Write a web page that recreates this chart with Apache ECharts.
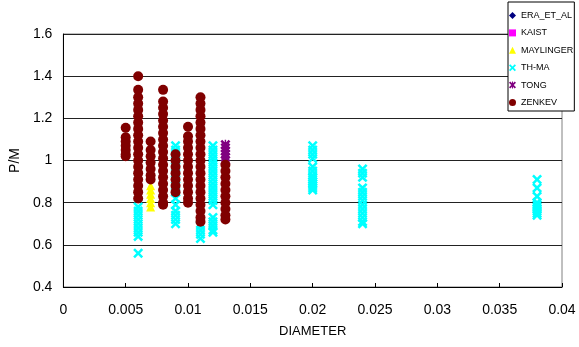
<!DOCTYPE html>
<html>
<head>
<meta charset="utf-8">
<script src="https://cdn.jsdelivr.net/npm/echarts@6/dist/echarts.min.js"></script>
<style>
  html, body { margin: 0; padding: 0; background: #fff; }
  #chart { width: 579px; height: 347px; }
</style>
</head>
<body>
<div id="chart"></div>
<script>
// values, one column of points per diameter
const seriesNames = ['ERA_ET_AL', 'KAIST', 'MAYLINGER', 'TH-MA', 'TONG', 'ZENKEV']

const eraX = [0.008, 0.011]
const eraY = [[1.0], [1.1]]

const kaistX = [0.006, 0.011]
const kaistY = [[1.08, 0.98], [0.95]]

const maylingerX = [0.007]
const maylingerY = [[0.78, 0.8, 0.82, 0.84, 0.86, 0.88]]

const thmaX = [0.006, 0.009, 0.011, 0.012, 0.02, 0.024, 0.038]
const thmaY = [
  [0.56, 0.64, 0.66, 0.68, 0.7, 0.72, 0.74, 0.76, 0.78],
  [1.07, 1.05, 1.03, 1.0, 0.97, 0.94, 0.91, 0.88, 0.85, 0.82, 0.79, 0.76, 0.74, 0.72, 0.7],
  [0.63, 0.65, 0.67, 0.69],
  [1.07, 1.05, 1.03, 1.01, 0.99, 0.97, 0.95, 0.93, 0.91, 0.89, 0.87, 0.85, 0.83, 0.81, 0.79, 0.73, 0.71, 0.69, 0.67, 0.66],
  [1.07, 1.05, 1.03, 1.01, 0.97, 0.95, 0.93, 0.92, 0.91, 0.9, 0.89, 0.88, 0.87, 0.86],
  [0.96, 0.94, 0.92, 0.87, 0.85, 0.83, 0.81, 0.79, 0.77, 0.75, 0.73, 0.71, 0.7],
  [0.91, 0.87, 0.83, 0.8, 0.79, 0.78, 0.77, 0.76, 0.75, 0.74]
]

const tongX = [0.013]
const tongY = [[1.075, 1.06, 1.045, 1.03, 1.015, 1.0]]

const zenkevX = [0.005, 0.006, 0.007, 0.008, 0.009, 0.01, 0.011, 0.013]
const zenkevY = [
  [1.155, 1.11, 1.09, 1.07, 1.05, 1.03, 1.02],
  [1.4, 1.335, 1.3, 1.27, 1.24, 1.21, 1.18, 1.15, 1.12, 1.09, 1.06, 1.03, 1.0, 0.97, 0.94, 0.91, 0.88, 0.85, 0.82],
  [1.09, 1.05, 1.02, 0.99, 0.96, 0.93, 0.91],
  [1.335, 1.28, 1.25, 1.22, 1.19, 1.16, 1.13, 1.1, 1.07, 1.04, 1.01, 0.98, 0.95, 0.92, 0.89, 0.86, 0.83, 0.8, 0.79],
  [1.03, 1.0, 0.97, 0.94, 0.91, 0.88, 0.85],
  [1.16, 1.115, 1.09, 1.06, 1.03, 1.0, 0.97, 0.94, 0.91, 0.88, 0.85, 0.82, 0.8],
  [1.3, 1.27, 1.24, 1.21, 1.18, 1.15, 1.12, 1.09, 1.06, 1.03, 1.0, 0.97, 0.94, 0.91, 0.88, 0.85, 0.82, 0.79, 0.76, 0.73, 0.71],
  [0.98, 0.95, 0.92, 0.89, 0.86, 0.83, 0.8, 0.77, 0.74, 0.72]
]

const FONT = 'Liberation Sans, Arial, sans-serif'
const X_PATH = 'M0,1.8L1.8,0L5,3.2L8.2,0L10,1.8L6.8,5L10,8.2L8.2,10L5,6.8L1.8,10L0,8.2L3.2,5Z'
const CROSS = 'path://' + X_PATH
const STAR = 'path://' + X_PATH + 'M4.3,0L5.7,0L5.7,10L4.3,10Z'

function pairs(xs, ys) {
  const out = []
  xs.forEach((x, i) => ys[i].forEach(y => out.push([x, y])))
  return out
}

function scatter(name, xs, ys, symbol, size, color) {
  return {
    name,
    type: 'scatter',
    data: pairs(xs, ys),
    symbol,
    symbolSize: size,
    itemStyle: { color, opacity: 1 },
    emphasis: { disabled: true },
    silent: true,
  }
}

const chart = echarts.init(document.getElementById('chart'))
chart.setOption({
  backgroundColor: '#fff',
  animation: false,
  grid: {
    left: 62, right: 17, top: 34, bottom: 60,
    show: true, borderColor: '#808080', borderWidth: 1, backgroundColor: '#fff',
  },
  legend: {
    orient: 'vertical',
    left: 508, top: 2,
    padding: [8, 1, 3, 1],
    itemWidth: 7, itemHeight: 7, itemGap: 6.4,
    backgroundColor: '#fff',
    borderColor: '#000', borderWidth: 1,
    textStyle: { fontFamily: FONT, fontSize: 9, lineHeight: 11, color: '#000' },
    data: seriesNames,
    z: 10,
  },
  xAxis: {
    type: 'value',
    min: 0, max: 0.04, interval: 0.005,
    name: 'DIAMETER',
    nameLocation: 'middle',
    nameGap: 38,
    nameTextStyle: { fontFamily: FONT, fontSize: 13, color: '#000' },
    axisLine: { lineStyle: { color: '#000', width: 1 } },
    axisTick: { show: true, inside: true, length: 4, lineStyle: { color: '#000' } },
    axisLabel: { fontFamily: FONT, fontSize: 14, color: '#000', margin: 16 },
    splitLine: { show: false },
  },
  yAxis: {
    type: 'value',
    min: 0.4, max: 1.6, interval: 0.2,
    name: 'P/M',
    nameLocation: 'middle',
    nameGap: 37,
    nameTextStyle: { fontFamily: FONT, fontSize: 14, color: '#000' },
    axisLine: { show: true, lineStyle: { color: '#000', width: 1 } },
    axisTick: { show: false },
    axisLabel: { fontFamily: FONT, fontSize: 14, color: '#000', margin: 11 },
    splitLine: { show: true, lineStyle: { color: '#222', width: 1 } },
  },
  series: [
    scatter('ERA_ET_AL', eraX, eraY, 'diamond', 7, '#000080'),
    scatter('KAIST', kaistX, kaistY, 'rect', 7, '#FF00FF'),
    scatter('MAYLINGER', maylingerX, maylingerY, 'triangle', 9, '#FFFF00'),
    scatter('TH-MA', thmaX, thmaY, CROSS, 10, '#00FFFF'),
    scatter('TONG', tongX, tongY, STAR, 10, '#800080'),
    scatter('ZENKEV', zenkevX, zenkevY, 'circle', 10, '#800000'),
  ],
})
</script>
</body>
</html>
